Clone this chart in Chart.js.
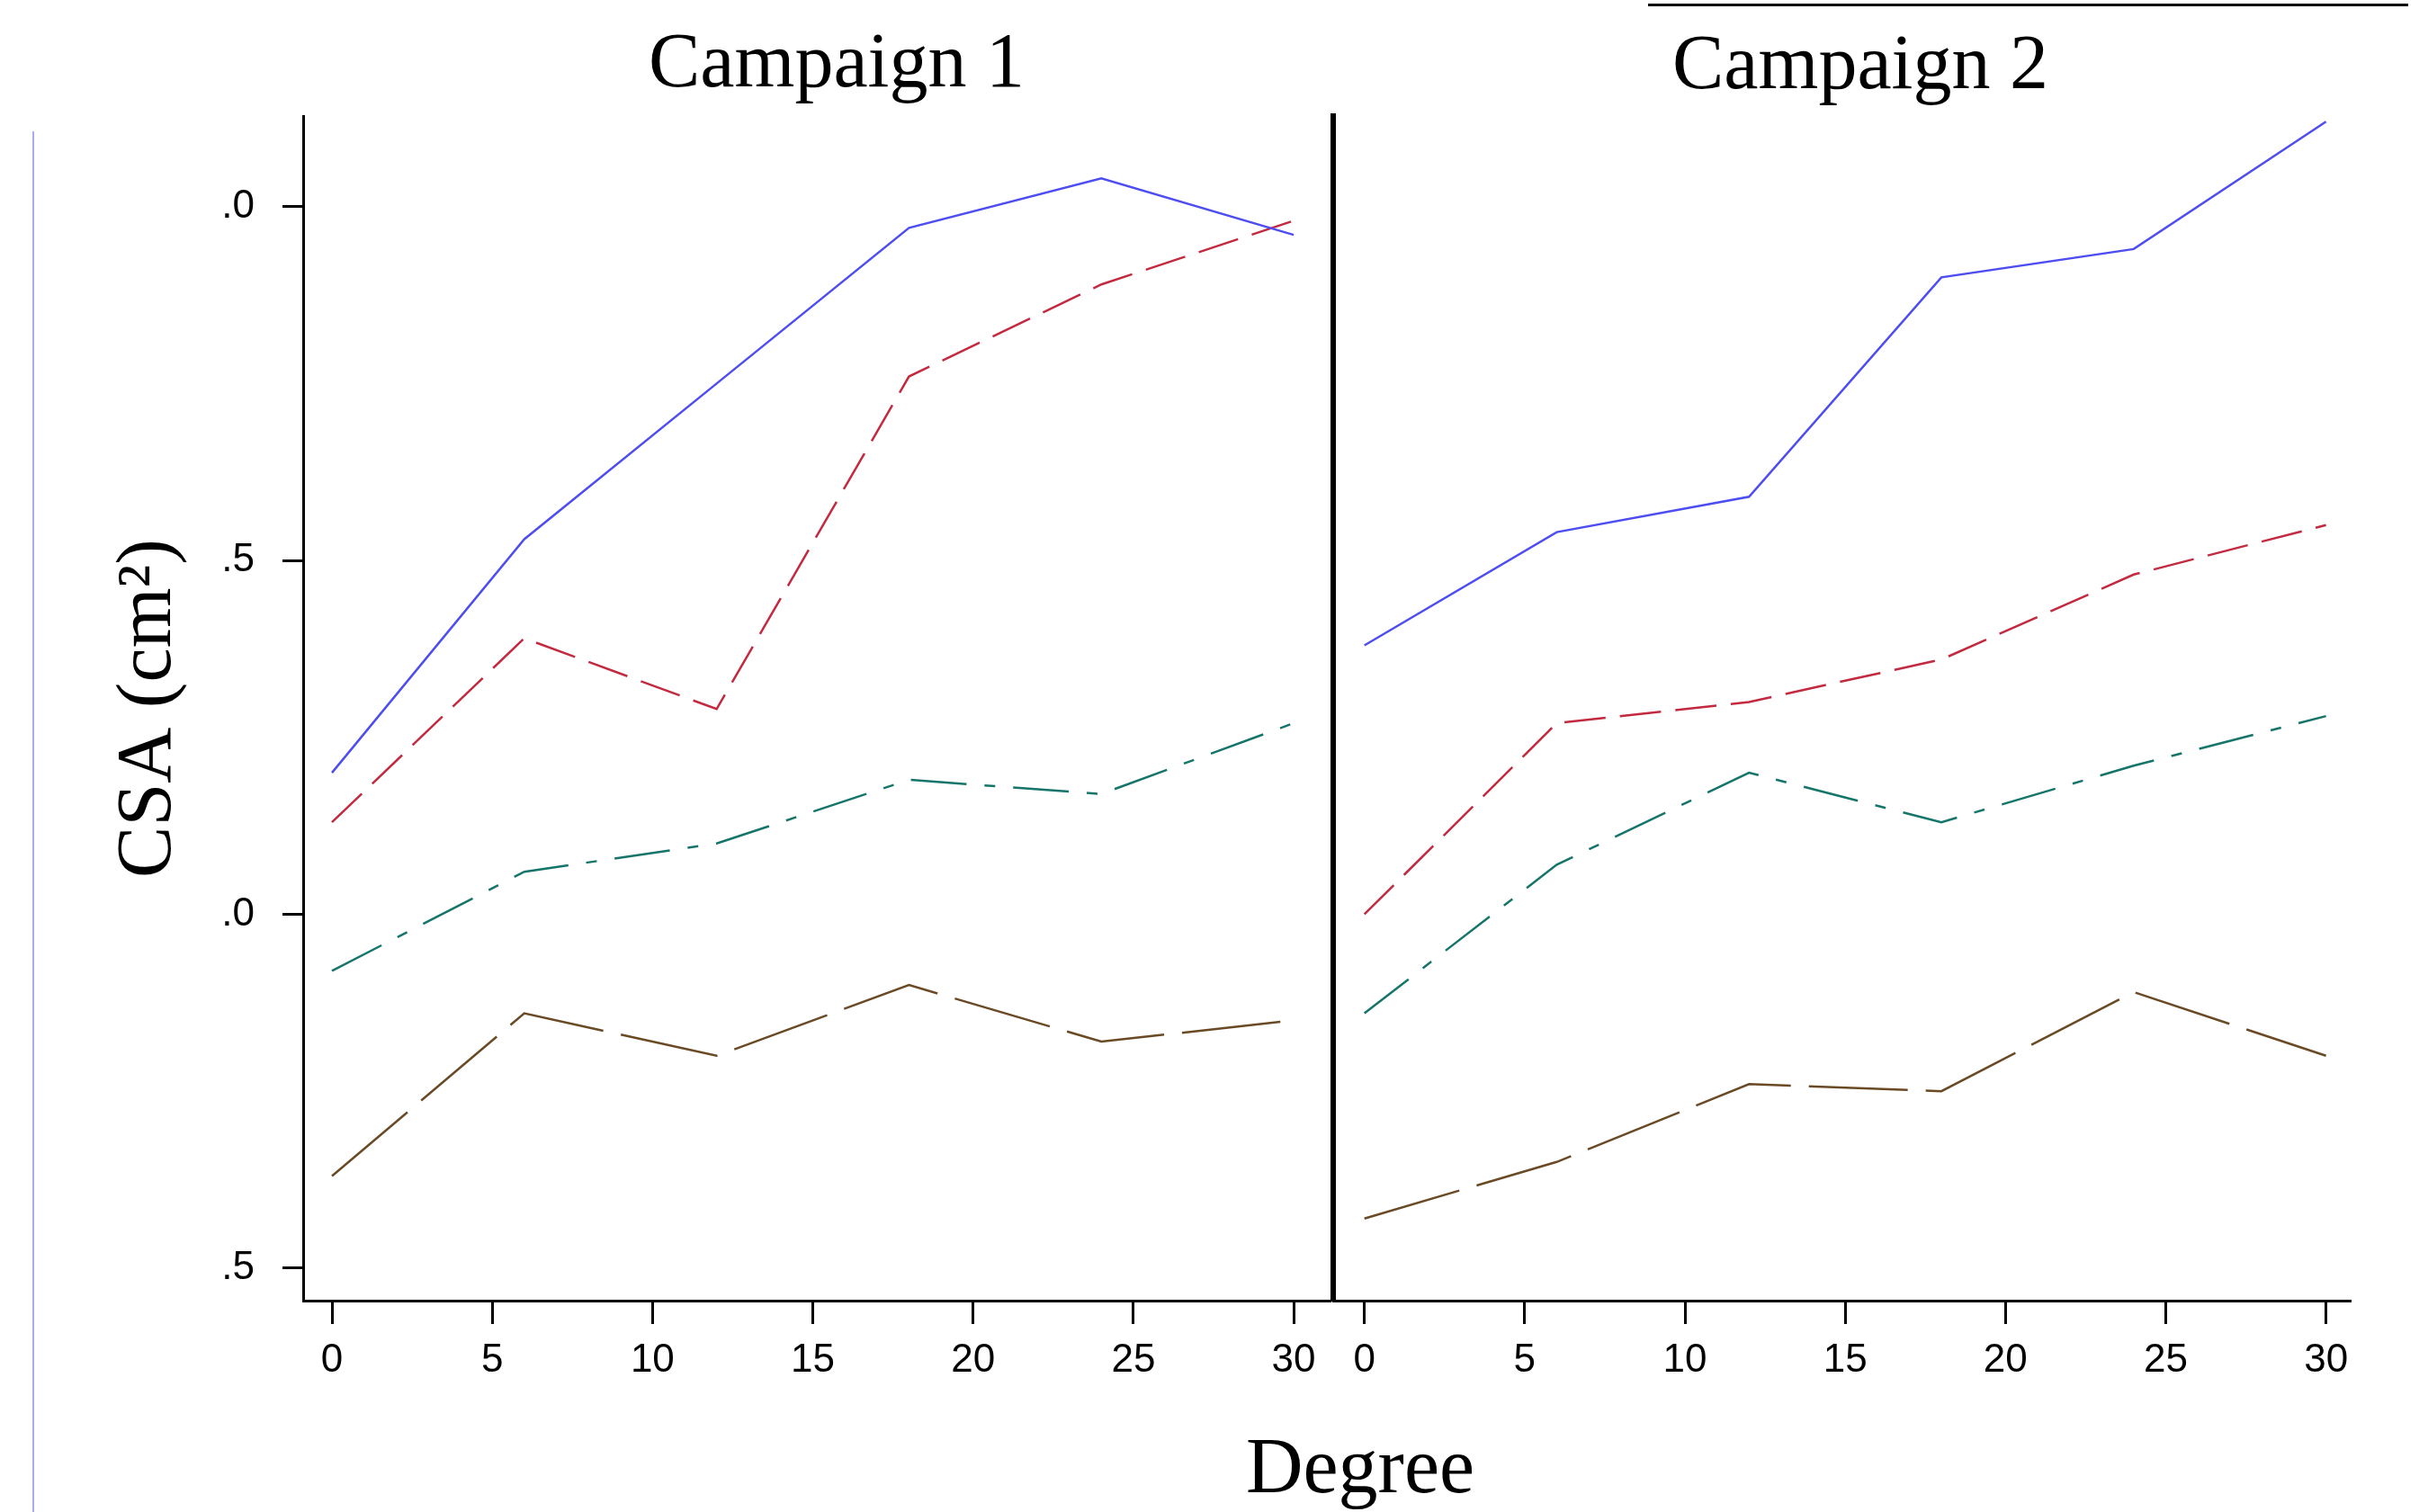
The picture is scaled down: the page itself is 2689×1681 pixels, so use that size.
<!DOCTYPE html>
<html>
<head>
<meta charset="utf-8">
<script src="https://cdn.jsdelivr.net/npm/chart.js@4.4.0/dist/chart.umd.min.js"></script>
<style>
  html, body { margin: 0; padding: 0; background: #fff; }
  body { width: 2689px; height: 1681px; position: relative; overflow: hidden; }
  canvas { position: absolute; top: 0; }
  .label { position: absolute; font-family: "Liberation Serif", "Times New Roman", serif; color: #000;
           white-space: nowrap; line-height: 88px; transform: translateX(-50%); }
  #edge-left { position: absolute; left: 36px; top: 146px; width: 2px; height: 1535px; background: #a8acf0; }
  #edge-top { position: absolute; left: 1832px; top: 4px; width: 845px; height: 3px; background: #000; }
</style>
</head>
<body>
<div id="edge-left"></div>
<div id="edge-top"></div>
<div class="label" style="left:930px; top:23px; font-size:86px;">Campaign 1</div>
<div class="label" style="left:2068px; top:25px; font-size:86px;">Campaign 2</div>
<div class="label" style="left:1512px; top:1586px; font-size:88px;">Degree</div>
<canvas id="panel1" width="1480" height="1566" style="left:0px"></canvas>
<canvas id="panel2" width="1289" height="1566" style="left:1400px"></canvas>
<script>
// degree values where each series was measured
const degrees = [0, 6, 12, 18, 24, 30];

// Campaign 1
const blue1 = [1.20, 1.53, 1.75, 1.97, 2.04, 1.96];
const red1 = [1.13, 1.39, 1.29, 1.76, 1.89, 1.98];
const teal1 = [0.92, 1.06, 1.10, 1.19, 1.17, 1.27];
const brown1 = [0.63, 0.86, 0.80, 0.90, 0.82, 0.85];

// Campaign 2
const blue2 = [1.38, 1.54, 1.59, 1.90, 1.94, 2.12];
const red2 = [1.00, 1.27, 1.30, 1.36, 1.48, 1.55];
const teal2 = [0.86, 1.07, 1.20, 1.13, 1.21, 1.28];
const brown2 = [0.57, 0.65, 0.76, 0.75, 0.89, 0.80];

const xTicks = [0, 5, 10, 15, 20, 25, 30];
const yTicks = [0.5, 1.0, 1.5, 2.0];
const yTickLabels = ['.5', '.0', '.5', '.0'];

const tickFont = { family: "'Liberation Sans', Arial, sans-serif", size: 44 };

function lineSet(values, color, dash) {
    return {
        data: values.map((v, i) => ({ x: degrees[i], y: v })),
        borderColor: color,
        borderWidth: 2.5,
        borderDash: dash,
        borderCapStyle: 'butt',
        pointRadius: 0,
        fill: false,
        tension: 0
    };
}

function makePanel(id, series, xMin, xMax, showY, padRight) {
    const ctx = document.getElementById(id).getContext('2d');
    const yAxis = {
        type: 'linear',
        min: 0.454,
        max: 2.128,
        afterBuildTicks: (scale) => { scale.ticks = yTicks.map(v => ({ value: v })); },
        afterFit: (scale) => { scale.width = showY ? 337 : 82; },
        border: { display: true, color: '#000', width: showY ? 3 : 6 },
        grid: showY
            ? { display: true, drawOnChartArea: false, tickLength: 23, tickWidth: 3, tickColor: '#000', color: '#000', lineWidth: 3 }
            : { display: false },
        ticks: {
            display: showY,
            padding: 31,
            color: '#000',
            font: tickFont,
            callback: (value, index) => yTickLabels[index]
        },
        title: {
            display: showY,
            text: 'CSA (cm²)',
            color: '#000',
            font: { family: "'Liberation Serif', 'Times New Roman', serif", size: 86 },
            padding: { top: 115, bottom: 0 }
        }
    };
    return new Chart(ctx, {
        type: 'line',
        data: {
            datasets: [
                lineSet(series[0], '#4d4df2', []),
                lineSet(series[1], '#c3293f', [46, 16]),
                lineSet(series[2], '#16756a', [62, 20, 12, 20]),
                lineSet(series[3], '#6a4a25', [110, 20])
            ]
        },
        options: {
            responsive: false,
            animation: false,
            devicePixelRatio: 1,
            layout: { padding: { top: 129, right: padRight, left: 0, bottom: 0 } },
            plugins: { legend: { display: false }, tooltip: { enabled: false }, title: { display: false } },
            scales: {
                x: {
                    type: 'linear',
                    min: xMin,
                    max: xMax,
                    afterBuildTicks: (scale) => { scale.ticks = xTicks.map(v => ({ value: v })); },
                    afterFit: (scale) => { scale.height = 120; },
                    border: { display: true, color: '#000', width: 3 },
                    grid: { display: true, drawOnChartArea: false, tickLength: 26, tickWidth: 3, tickColor: '#000', color: '#000', lineWidth: 3 },
                    ticks: { padding: 14, color: '#000', font: tickFont, maxRotation: 0 }
                },
                y: yAxis
            }
        }
    });
}

makePanel('panel1', [blue1, red1, teal1, brown1], -0.898, 31.12, true, 2);
makePanel('panel2', [blue2, red2, teal2, brown2], -0.974, 30.74, false, 77);
</script>
</body>
</html>
